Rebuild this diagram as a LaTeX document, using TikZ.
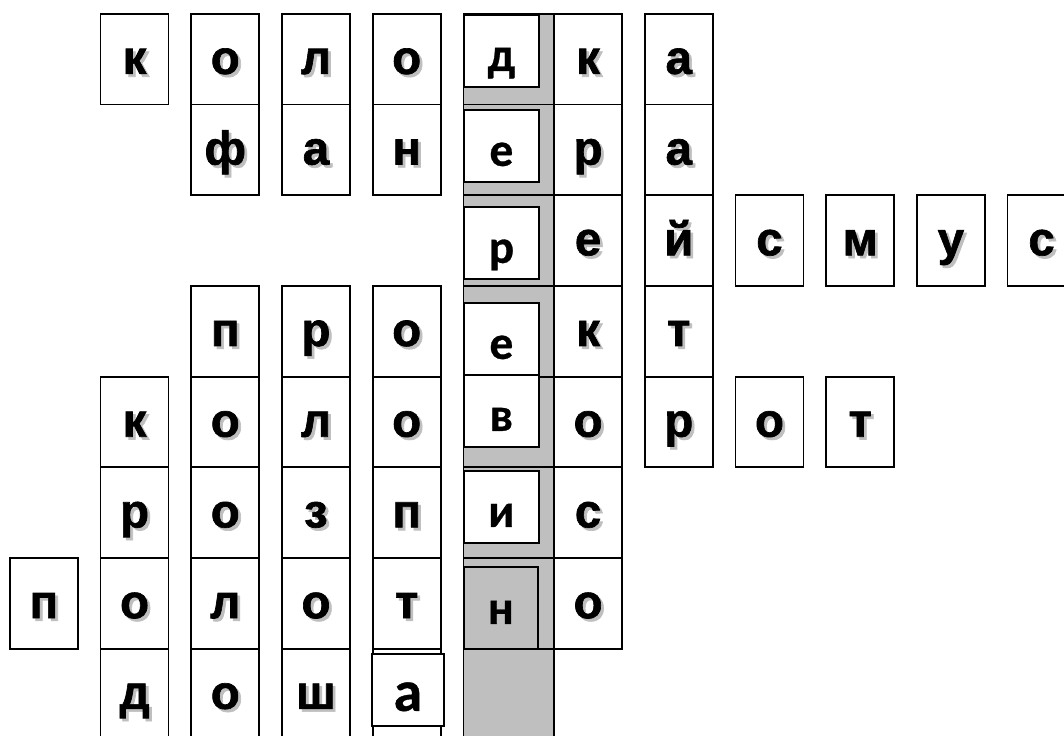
\documentclass[tikz,border=0pt]{standalone}
\usepackage{fontspec}
\newfontfamily\arialb{Liberation Sans}[UprightFont=*-Bold, FakeBold=1.4]
\newfontfamily\calfont{Carlito}[UprightFont=*-Bold, FakeBold=0.6]
% letter with a soft grey drop shadow
\newcommand{\shd}[1]{\rlap{\hspace{1.6pt}\raisebox{-1.6pt}{\textcolor{black!25}{#1}}}#1}

\begin{document}
\begin{tikzpicture}[x=0.02cm, y=-0.02cm, line width=1pt,
    cell/.style={draw, fill=white, rectangle, inner sep=0pt, anchor=north west,
        minimum width=1.36cm, minimum height=1.814cm, text height=0.586cm, text depth=0pt,
        font=\arialb\fontsize{27}{30}\selectfont},
    gcell/.style={draw, fill=black!25, rectangle, inner sep=0pt, anchor=north west,
        minimum width=1.81cm, minimum height=1.814cm},
    ibox/.style={draw, fill=white, rectangle, inner sep=0pt, anchor=north west,
        minimum width=1.5cm, minimum height=1.44cm, text height=0.8cm, text depth=0pt,
        font=\calfont\fontsize{27}{30}\selectfont}]
    \useasboundingbox (0,0) rectangle (1064,735);
    \clip (0,0) rectangle (1064,735);
    % grey key column
    \foreach \r in {0,...,7} {
        \node[gcell] (g\r) at (462.5,{13+90.7*\r}) {};
    }
    % letter cells: column/row/letter
    \foreach \c/\r/\t in {1/0/к, 2/0/о, 3/0/л, 4/0/о, 6/0/к, 7/0/а,
                          2/1/ф, 3/1/а, 4/1/н, 6/1/р, 7/1/а,
                          6/2/е, 7/2/й, 8/2/с, 9/2/м, 10/2/у, 11/2/с,
                          2/3/п, 3/3/р, 4/3/о, 6/3/к, 7/3/т,
                          1/4/к, 2/4/о, 3/4/л, 4/4/о, 6/4/о, 7/4/р, 8/4/о, 9/4/т,
                          1/5/р, 2/5/о, 3/5/з, 4/5/п, 6/5/с,
                          0/6/п, 1/6/о, 2/6/л, 3/6/о, 4/6/т, 6/6/о,
                          1/7/д, 2/7/о, 3/7/ш, 4/7/{}} {
        \node[cell] (c\c r\r) at ({9+90.7*\c},{13+90.7*\r}) {\shd{\t}};
    }
    % key word boxes in the grey column
    \foreach \r/\y/\t in {0/14/д, 1/109/е, 2/206/р, 3/302/е, 4/374/в, 5/470/и} {
        \node[ibox] (k\r) at (463,\y) {\t};
    }
    \node[ibox, fill=black!25, minimum width=1.48cm, minimum height=1.64cm, text height=0.64cm] (k6) at (463,566) {н};
    % loose box over the last row
    \node[ibox, minimum width=1.44cm, text height=0.84cm,
        font=\calfont\fontsize{33}{36}\selectfont] (a7) at (371,653) {а};
\end{tikzpicture}
\end{document}
